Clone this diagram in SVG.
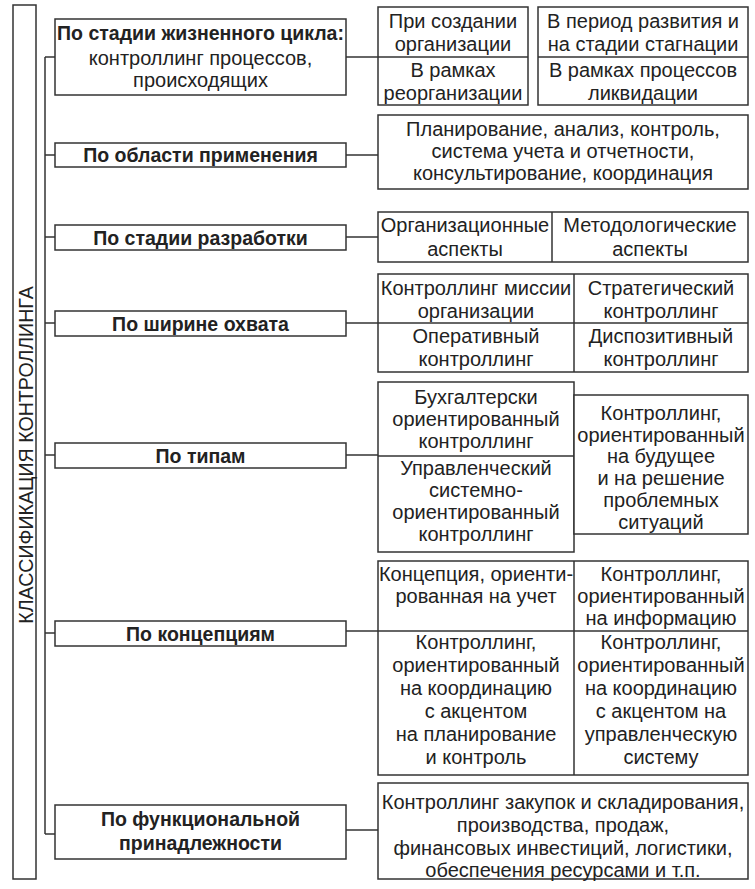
<svg xmlns="http://www.w3.org/2000/svg" width="755" height="889" viewBox="0 0 755 889">
<style>
rect{fill:#fff;stroke:#333;stroke-width:1.5}
line,path{stroke:#333;stroke-width:1.5;fill:none}
text{font-family:"Liberation Sans",Arial,sans-serif;font-size:20px;fill:#222;text-anchor:middle;dominant-baseline:central}
.b{font-weight:bold;font-size:19.5px}
</style>
<rect x="0" y="0" width="755" height="889" style="stroke:none"/>
<g id="title">
<rect x="13" y="5" width="23" height="874"/>
<text transform="translate(25.5 455) rotate(-90)" style="font-size:19.6px">КЛАССИФИКАЦИЯ КОНТРОЛЛИНГА</text>
</g>
<g id="connectors">
<line x1="45" y1="57" x2="45" y2="834"/>
<line x1="45" y1="57" x2="55" y2="57"/>
<line x1="45" y1="155" x2="55" y2="155"/>
<line x1="45" y1="237" x2="55" y2="237"/>
<line x1="45" y1="323" x2="55" y2="323"/>
<line x1="45" y1="455" x2="55" y2="455"/>
<line x1="45" y1="633" x2="55" y2="633"/>
<line x1="45" y1="834" x2="55" y2="834"/>
<line x1="346" y1="57" x2="378" y2="57"/>
<line x1="346" y1="155" x2="378" y2="155"/>
<line x1="346" y1="237" x2="378" y2="237"/>
<line x1="346" y1="323" x2="378" y2="323"/>
<line x1="346" y1="455" x2="378" y2="455"/>
<line x1="346" y1="631" x2="378" y2="631"/>
<line x1="346" y1="830" x2="378" y2="830"/>
</g>
<g id="n1">
<rect x="55" y="19" width="291" height="76"/>
<text x="200.5" y="33" class="b">По стадии жизненного цикла:</text>
<text x="200.5" y="58">контроллинг процессов,</text>
<text x="200.5" y="80">происходящих</text>
</g>
<g id="n2">
<rect x="55" y="143" width="291" height="24"/>
<text x="200.5" y="155" class="b">По области применения</text>
</g>
<g id="n3">
<rect x="55" y="225" width="291" height="25"/>
<text x="200.5" y="237.5" class="b">По стадии разработки</text>
</g>
<g id="n4">
<rect x="55" y="311" width="291" height="25"/>
<text x="200.5" y="323.5" class="b">По ширине охвата</text>
</g>
<g id="n5">
<rect x="55" y="443" width="291" height="25"/>
<text x="200.5" y="455.5" class="b">По типам</text>
</g>
<g id="n6">
<rect x="55" y="621" width="291" height="25"/>
<text x="200.5" y="633.5" class="b">По концепциям</text>
</g>
<g id="n7">
<rect x="55" y="805" width="291" height="54"/>
<text x="200.5" y="819" class="b">По функциональной</text>
<text x="200.5" y="843" class="b">принадлежности</text>
</g>
<g id="r1">
<rect x="378" y="7" width="150" height="98"/>
<line x1="378" y1="57" x2="528" y2="57"/>
<text x="453" y="21">При создании</text>
<text x="453" y="44">организации</text>
<text x="453" y="70">В рамках</text>
<text x="453" y="93">реорганизации</text>
<rect x="538" y="7" width="210" height="98"/>
<line x1="538" y1="57" x2="748" y2="57"/>
<text x="643" y="21">В период развития и</text>
<text x="643" y="44">на стадии стагнации</text>
<text x="643" y="70">В рамках процессов</text>
<text x="643" y="93">ликвидации</text>
</g>
<g id="r2">
<rect x="378" y="115" width="370" height="74"/>
<text x="563" y="129">Планирование, анализ, контроль,</text>
<text x="563" y="151">система учета и отчетности,</text>
<text x="563" y="173">консультирование, координация</text>
</g>
<g id="r3">
<rect x="378" y="212" width="370" height="50"/>
<line x1="552" y1="212" x2="552" y2="262"/>
<text x="465" y="225">Организационные</text>
<text x="465" y="249">аспекты</text>
<text x="650" y="225">Методологические</text>
<text x="650" y="249">аспекты</text>
</g>
<g id="r4">
<rect x="378" y="274" width="370" height="98"/>
<line x1="574" y1="274" x2="574" y2="372"/>
<line x1="378" y1="323" x2="748" y2="323"/>
<text x="476" y="288">Контроллинг миссии</text>
<text x="476" y="311">организации</text>
<text x="476" y="336">Оперативный</text>
<text x="476" y="359">контроллинг</text>
<text x="661" y="288">Стратегический</text>
<text x="661" y="311">контроллинг</text>
<text x="661" y="336">Диспозитивный</text>
<text x="661" y="359">контроллинг</text>
</g>
<g id="r5">
<rect x="378" y="382" width="196" height="170"/>
<line x1="378" y1="456" x2="574" y2="456"/>
<text x="476" y="397">Бухгалтерски</text>
<text x="476" y="419">ориентированный</text>
<text x="476" y="441">контроллинг</text>
<text x="476" y="468">Управленческий</text>
<text x="476" y="490">системно-</text>
<text x="476" y="512">ориентированный</text>
<text x="476" y="534">контроллинг</text>
<rect x="574" y="395" width="174" height="139"/>
<text x="661" y="413">Контроллинг,</text>
<text x="661" y="435">ориентированный</text>
<text x="661" y="456">на будущее</text>
<text x="661" y="478">и на решение</text>
<text x="661" y="500">проблемных</text>
<text x="661" y="522">ситуаций</text>
</g>
<g id="r6">
<rect x="378" y="561" width="370" height="214"/>
<line x1="574" y1="561" x2="574" y2="775"/>
<line x1="378" y1="631" x2="748" y2="631"/>
<text x="476" y="574">Концепция, ориенти-</text>
<text x="476" y="596">рованная на учет</text>
<text x="661" y="574">Контроллинг,</text>
<text x="661" y="596">ориентированный</text>
<text x="661" y="618">на информацию</text>
<text x="476" y="642">Контроллинг,</text>
<text x="476" y="665">ориентированный</text>
<text x="476" y="688">на координацию</text>
<text x="476" y="711">с акцентом</text>
<text x="476" y="734">на планирование</text>
<text x="476" y="757">и контроль</text>
<text x="661" y="642">Контроллинг,</text>
<text x="661" y="665">ориентированный</text>
<text x="661" y="688">на координацию</text>
<text x="661" y="711">с акцентом на</text>
<text x="661" y="734">управленческую</text>
<text x="661" y="757">систему</text>
</g>
<g id="r7">
<rect x="378" y="783" width="370" height="96"/>
<text x="563" y="802">Контроллинг закупок и складирования,</text>
<text x="563" y="825">производства, продаж,</text>
<text x="563" y="848">финансовых инвестиций, логистики,</text>
<text x="563" y="870">обеспечения ресурсами и т.п.</text>
</g>
</svg>
